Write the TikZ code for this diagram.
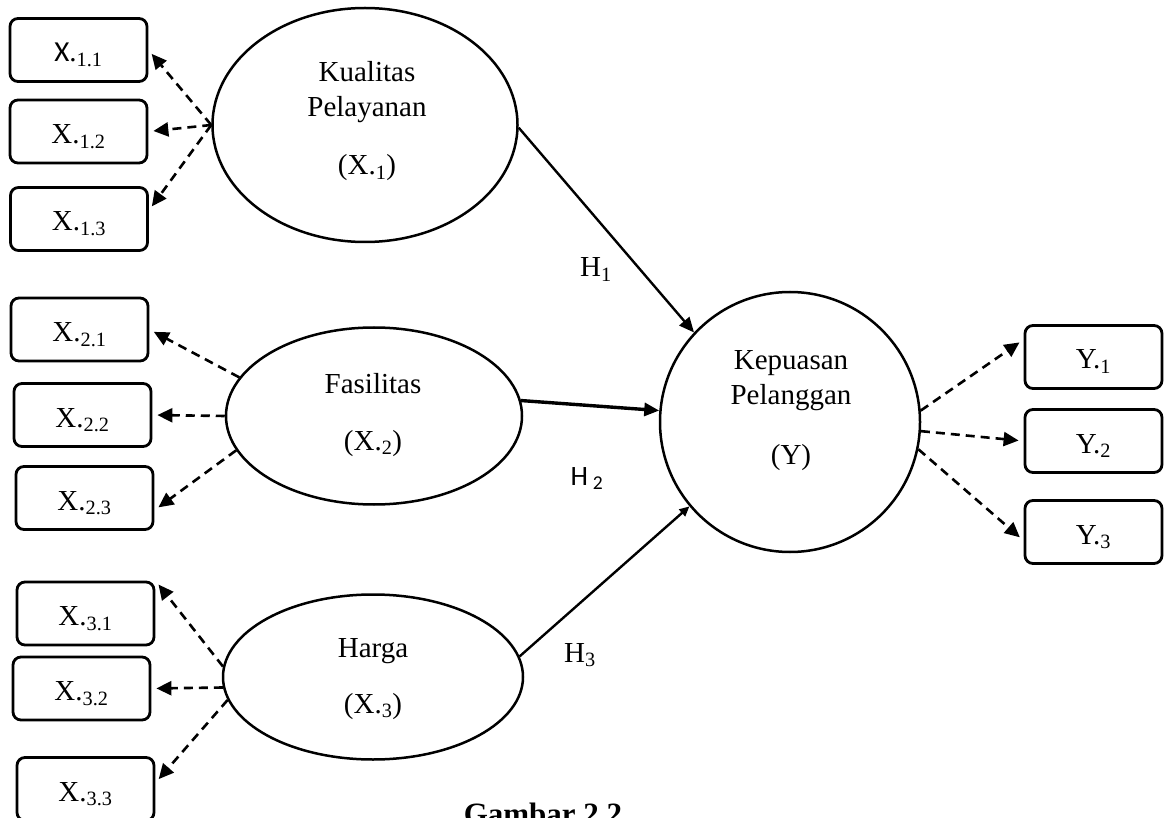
\documentclass[tikz,border=0pt]{standalone}
\usepackage{fontspec}
\setmainfont{Liberation Serif}
\newfontfamily\calib{Carlito}
\usetikzlibrary{shapes.geometric,arrows.meta}
\begin{document}
\begin{tikzpicture}[x=1pt,y=-1pt,
  ind/.style={draw,line width=2.8pt,rounded corners=8pt,minimum width=137pt,minimum height=63pt,inner sep=0pt,
     font=\fontsize{29}{30}\selectfont,text height=26pt,text depth=2pt},
  lat/.style={draw,line width=2.5pt,ellipse,inner sep=0pt},
  lbl/.style={anchor=base,inner sep=0pt,font=\fontsize{29}{30}\selectfont},
  dsh/.style={line width=2.6pt,dash pattern=on 9pt off 6pt,-{Triangle[length=15pt,width=14pt]},shorten >=5pt},
  sol/.style={line width=2.4pt,-{Triangle[length=15pt,width=13pt]}}
]
\useasboundingbox (0,0) rectangle (1165,818);
% indicator boxes
\node[ind] (x11) at (78.5,50) {{\calib X}.\textsubscript{1.1}};
\node[ind] (x12) at (78.5,131.5) {X.\textsubscript{1.2}};
\node[ind] (x13) at (79,219) {X.\textsubscript{1.3}};
\node[ind] (x21) at (79.5,329.5) {X.\textsubscript{2.1}};
\node[ind] (x22) at (82.5,415) {X.\textsubscript{2.2}};
\node[ind] (x23) at (84.5,498) {X.\textsubscript{2.3}};
\node[ind] (x31) at (85.5,613.5) {X.\textsubscript{3.1}};
\node[ind] (x32) at (81.5,688.5) {X.\textsubscript{3.2}};
\node[ind] (x33) at (85.5,789) {X.\textsubscript{3.3}};
\node[ind] (y1) at (1093.5,357) {Y.\textsubscript{1}};
\node[ind] (y2) at (1093.5,441) {Y.\textsubscript{2}};
\node[ind] (y3) at (1093.5,532) {Y.\textsubscript{3}};
% latent variables
\node[lat,minimum width=305pt,minimum height=234pt] (kq) at (365,125) {};
\node[lat,minimum width=296pt,minimum height=177pt] (fs) at (374,416) {};
\node[lat,minimum width=300pt,minimum height=165pt] (hg) at (373,677) {};
\node[lat,circle,minimum size=260pt] (kp) at (790,422) {};
% labels inside
\node[lbl] (kq1) at (367,82) {Kualitas};
\node[lbl] (kq2) at (367,117) {Pelayanan};
\node[lbl] (kq3) at (367,175) {(X.\textsubscript{1})};
\node[lbl] (fs1) at (373,393) {Fasilitas};
\node[lbl] (fs2) at (373,450) {(X.\textsubscript{2})};
\node[lbl] (hg1) at (373,657) {Harga};
\node[lbl] (hg2) at (373,713) {(X.\textsubscript{3})};
\node[lbl] (kp1) at (791,370) {Kepuasan};
\node[lbl] (kp2) at (791,404) {Pelanggan};
\node[lbl] (kp3) at (791,464) {(Y)};
% hypothesis labels
\node[lbl] (h1) at (596,277) {H\textsubscript{1}};
\node[lbl,font=\calib\fontsize{28}{30}\selectfont] (h2) at (587,485) {H\,\textsubscript{2}};
\node[lbl] (h3) at (580,662) {H\textsubscript{3}};
% caption (cut off at the bottom edge, as in the reference)
\node[lbl,font=\bfseries\fontsize{31}{34}\selectfont] (cap) at (543,824) {Gambar 2.2};
% dashed indicator arrows
\draw[dsh] (kq.west) -- (x11.east);
\draw[dsh] (kq.west) -- (x12.east);
\draw[dsh] (kq.west) -- (x13.7);
\draw[dsh] (fs.164) -- (x21.east);
\draw[dsh] (fs.west) -- (x22.east);
\draw[dsh] (fs.194) -- (x23.-10);
\draw[dsh] (hg.176) -- (x31.north east);
\draw[dsh] (hg.184) -- (x32.east);
\draw[dsh] (hg.189) -- (x33.5);
\draw[dsh] (kp.5) -- (y1.166);
\draw[dsh] (kp.-4) -- (y2.west);
\draw[dsh] (kp.-12) -- (y3.187);
% structural paths
\draw[sol] (kq.-1) -- (kp.137);
\draw[sol,line width=3.4pt] (fs.6) -- (kp.175);
\draw[sol,-{Triangle[length=10pt,width=9pt]}] (hg.8) -- (kp.220);
\end{tikzpicture}
\end{document}
